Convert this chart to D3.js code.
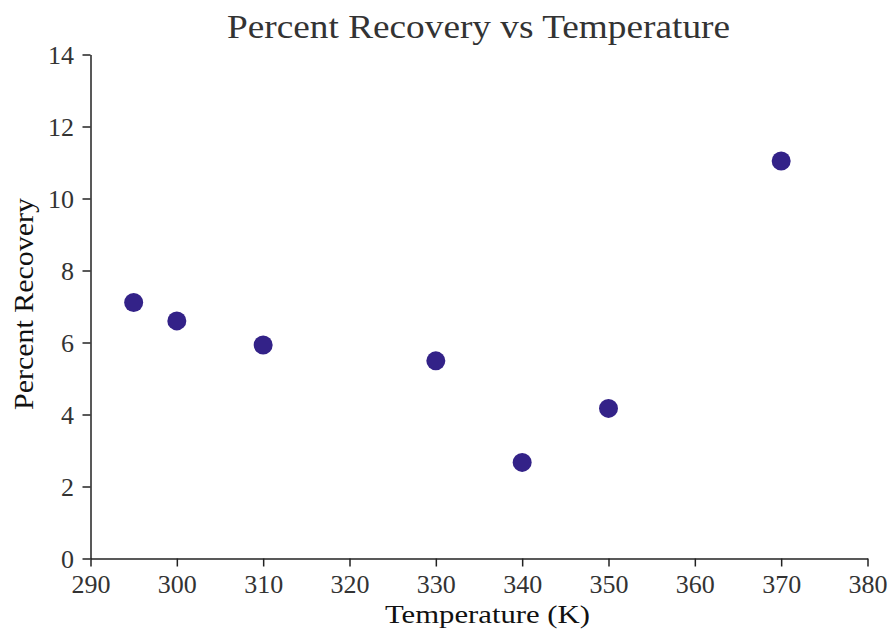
<!DOCTYPE html>
<html><head><meta charset="utf-8">
<script src="https://cdn.jsdelivr.net/npm/d3@7"></script>
<style>body{margin:0;background:#fff}</style>
</head><body>
<svg id="c" width="892" height="630"></svg>
<script>
const temperature = [295, 300, 310, 330, 340, 350, 370];
const recovery = [7.11, 6.6, 5.93, 5.49, 2.67, 4.17, 11.04];
const xTicks = [290, 300, 310, 320, 330, 340, 350, 360, 370, 380];
const yTicks = [0, 2, 4, 6, 8, 10, 12, 14];

const svg = d3.select('#c');
const font = '"Liberation Serif", "Times New Roman", serif';
const x = d3.scaleLinear().domain([290, 380]).range([90.5, 867.5]);
const y = d3.scaleLinear().domain([0, 14]).range([558.5, 54.5]);

const gx = svg.append('g').attr('transform', 'translate(0,558.5)')
  .call(d3.axisBottom(x).tickValues(xTicks).tickSize(8).tickSizeOuter(0).tickPadding(8.5));
const gy = svg.append('g').attr('transform', 'translate(90.5,0)')
  .call(d3.axisLeft(y).tickValues(yTicks).tickSize(8).tickSizeOuter(0).tickPadding(8.5));
[gx, gy].forEach(g => {
  g.attr('font-family', font);
  g.selectAll('path,line').attr('stroke', '#222').attr('stroke-width', 1.5);
  g.selectAll('text').attr('font-family', font).attr('font-size', 26).attr('fill', '#333');
});
gy.selectAll('text').attr('dy', '0.33em');

svg.append('g').selectAll('circle').data(temperature).join('circle')
  .attr('cx', (d) => x(d)).attr('cy', (d, i) => y(recovery[i]))
  .attr('r', 9.5).attr('fill', '#332288');

svg.append('text').attr('x', 227).attr('y', 38)
  .attr('textLength', 503).attr('lengthAdjust', 'spacingAndGlyphs')
  .attr('font-family', font).attr('font-size', 33).attr('fill', '#333')
  .text('Percent Recovery vs Temperature');
svg.append('text').attr('x', 385).attr('y', 623)
  .attr('textLength', 205).attr('lengthAdjust', 'spacingAndGlyphs')
  .attr('font-family', font).attr('font-size', 26).attr('fill', '#111')
  .text('Temperature (K)');
svg.append('text').attr('transform', 'translate(33,410) rotate(-90)')
  .attr('textLength', 212).attr('lengthAdjust', 'spacingAndGlyphs')
  .attr('font-family', font).attr('font-size', 27).attr('fill', '#111')
  .text('Percent Recovery');
</script>
</body></html>
